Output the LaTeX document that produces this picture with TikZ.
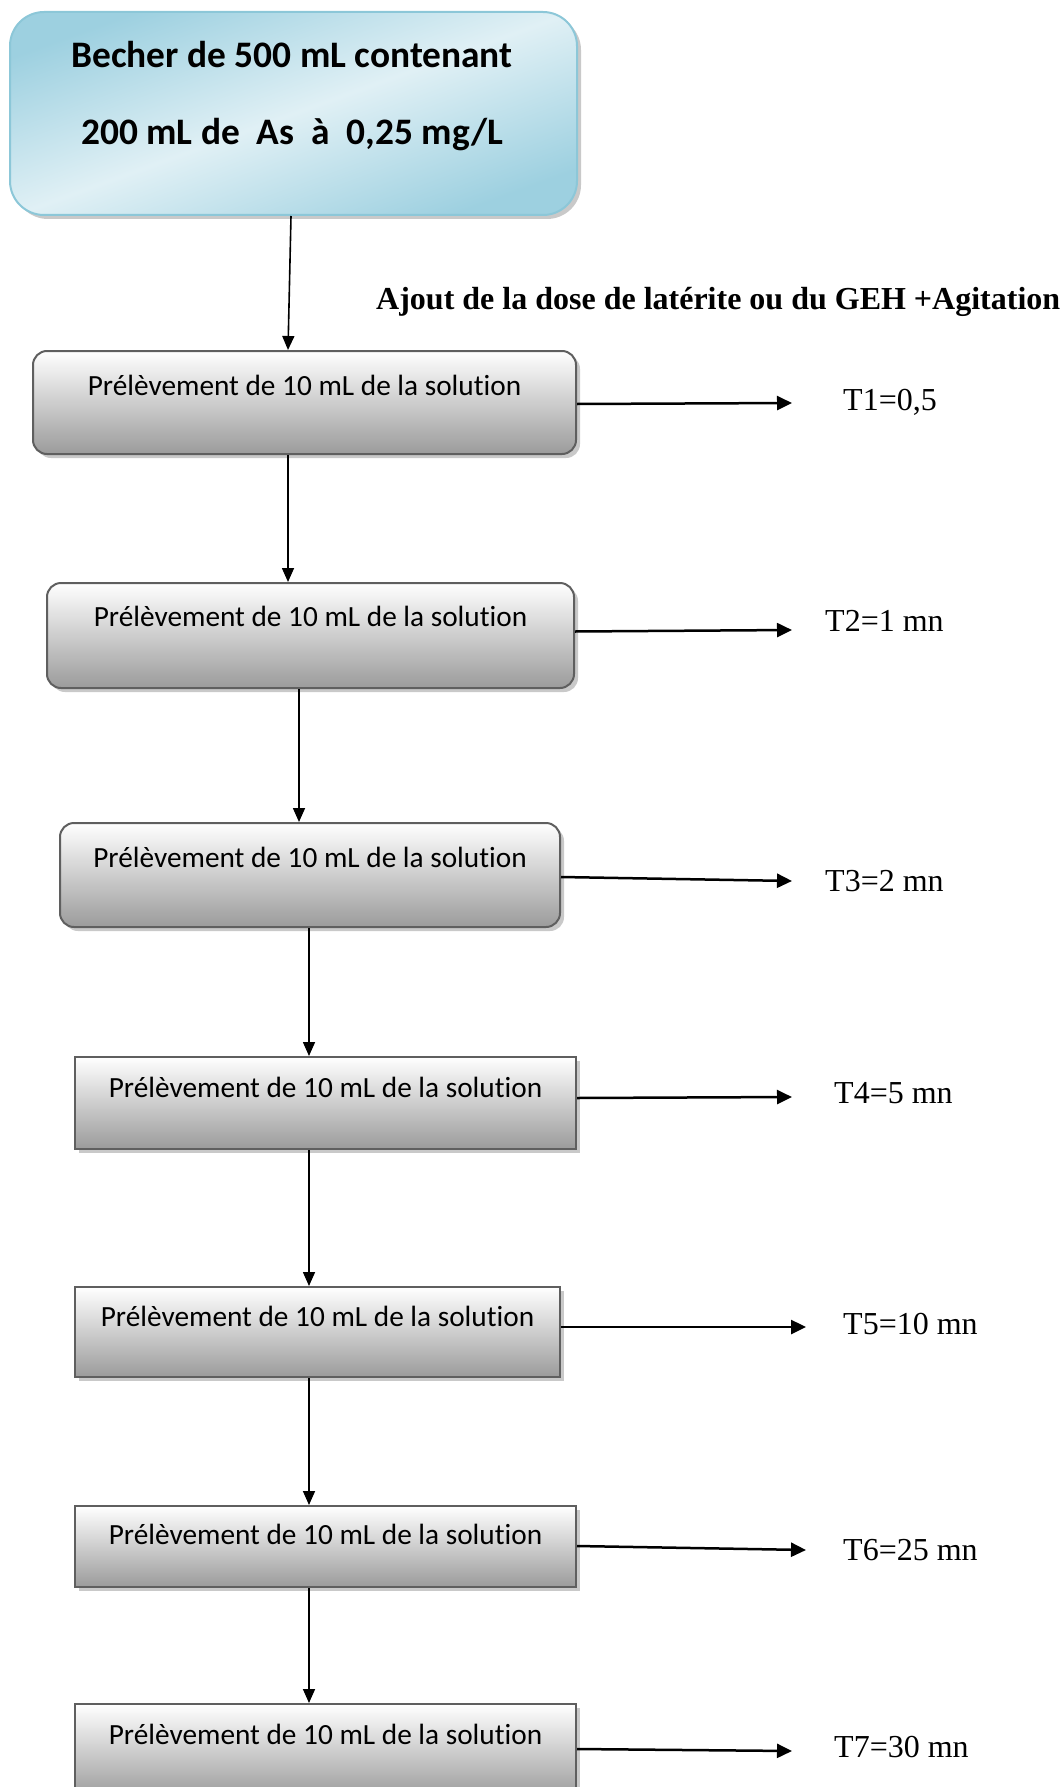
\documentclass[tikz,border=0pt]{standalone}
\usepackage{fontspec}
\setmainfont{Liberation Serif}
\newfontfamily\carlito[Ligatures=NoCommon]{Carlito}
\usetikzlibrary{arrows.meta,shadows,calc}
\definecolor{boxline}{HTML}{5F5F5F}
\definecolor{boxbot}{HTML}{9B9B9B}
\definecolor{shadowgray}{HTML}{C9C9C9}
\definecolor{blueline}{HTML}{8CC7D8}
\definecolor{bluedark}{HTML}{9DD0E0}
\definecolor{bluelight}{HTML}{E0F0F5}
\newcommand\prel{Prélèvement de 10 mL de la solution}
\begin{document}
\begin{tikzpicture}[x=1pt,y=-1pt,
  graybox/.style={draw=boxline, line width=2pt, top color=white, bottom color=boxbot,
    anchor=north west, inner sep=0pt, font=\carlito\fontsize{29.3}{33}\selectfont,
    drop shadow={shadow xshift=4pt, shadow yshift=-4pt, fill=shadowgray, opacity=1}},
  bluebox/.style={draw=blueline, line width=2pt, rounded corners=34pt, anchor=north west,
    inner sep=0pt, shading=axis, left color=bluedark, right color=bluedark, middle color=bluelight,
    shading angle=20,
    drop shadow={shadow xshift=4pt, shadow yshift=-4pt, fill=shadowgray, opacity=1}},
  toptext/.style={font=\carlito\bfseries\fontsize{37.4}{42}\selectfont, inner sep=0pt},
  tlabel/.style={font=\fontsize{32}{36}\selectfont, anchor=west, inner sep=0pt},
  vline/.style={line width=1.6pt, -{Triangle[length=14pt,width=12pt]}},
  hline/.style={line width=2.5pt, -{Triangle[length=15pt,width=14pt]}},
]
\useasboundingbox (0,0) rectangle (1064,1787);
\clip (0,0) rectangle (1064,1787);

% top box
\node[bluebox, minimum width=567pt, minimum height=203pt] (top) at (9,11) {};
\node[toptext] (top1) at (292,55) {Becher de 500 mL contenant};
\node[toptext] (top2) at (292,135) {200 mL de\ \ As\ \ à\ \ 0,25 mg/L};

\node[font=\bfseries\fontsize{32}{36}\selectfont, anchor=west, inner sep=0pt] (ajout) at (376,302)
  {Ajout de la dose de latérite ou du GEH +Agitation};

% boxes
\node[graybox, rounded corners=14pt, minimum width=543pt, text height=44pt, text depth=59pt] (b1) at (32,350) {\prel};
\node[graybox, rounded corners=14pt, minimum width=527pt, text height=43pt, text depth=62pt] (b2) at (46,582) {\prel};
\node[graybox, rounded corners=14pt, minimum width=500pt, text height=44pt, text depth=60pt] (b3) at (59,822) {\prel};
\node[graybox, minimum width=501pt, text height=40pt, text depth=52pt] (b4) at (74,1056) {\prel};
\node[graybox, minimum width=485pt, text height=39pt, text depth=51pt] (b5) at (74,1286) {\prel};
\node[graybox, minimum width=501pt, text height=38pt, text depth=43pt] (b6) at (74,1505) {\prel};
\node[graybox, minimum width=501pt, text height=40pt, text depth=54pt] (b7) at (74,1703) {\prel};

% vertical arrows
\draw[vline] ([xshift=-2.5pt]top.south) -- ([xshift=-16.5pt]b1.north);
\draw[vline] ([xshift=-16.5pt]b1.south) -- ([xshift=-22.5pt]b2.north);
\draw[vline] ([xshift=-11.5pt]b2.south) -- ([xshift=-11pt]b3.north);
\draw[vline] ([xshift=-1pt]b3.south) -- ([xshift=-16.5pt]b4.north);
\draw[vline] ([xshift=-16.5pt]b4.south) -- ([xshift=-8.5pt]b5.north);
\draw[vline] ([xshift=-8.5pt]b5.south) -- ([xshift=-16.5pt]b6.north);
\draw[vline] ([xshift=-16.5pt]b6.south) -- ([xshift=-16.5pt]b7.north);

% right arrows
\coordinate (e1) at (792,403);
\coordinate (e2) at (792,630);
\coordinate (e3) at (792,881);
\coordinate (e4) at (792,1097);
\coordinate (e5) at (806,1327);
\coordinate (e6) at (806,1550);
\coordinate (e7) at (792,1751);
\draw[hline] ([yshift=-1.5pt]b1.east) -- (e1);
\draw[hline] ([yshift=4pt]b2.east) -- (e2);
\draw[hline] ([yshift=-2pt]b3.east) -- (e3);
\draw[hline] ([yshift=5pt]b4.east) -- (e4);
\draw[hline] ([yshift=5pt]b5.east) -- (e5);
\draw[hline] ([yshift=0.5pt]b6.east) -- (e6);
\draw[hline] ([yshift=-46pt]b7.north east) -- (e7);

% labels
\node[tlabel] (t1) at (843,402) {T1=0,5};
\node[tlabel] (t2) at (825,621) {T2=1 mn};
\node[tlabel] (t3) at (825,881) {T3=2 mn};
\node[tlabel] (t4) at (834,1093) {T4=5 mn};
\node[tlabel] (t5) at (843,1324) {T5=10 mn};
\node[tlabel] (t6) at (843,1550) {T6=25 mn};
\node[tlabel] (t7) at (834,1747) {T7=30 mn};
\end{tikzpicture}
\end{document}
